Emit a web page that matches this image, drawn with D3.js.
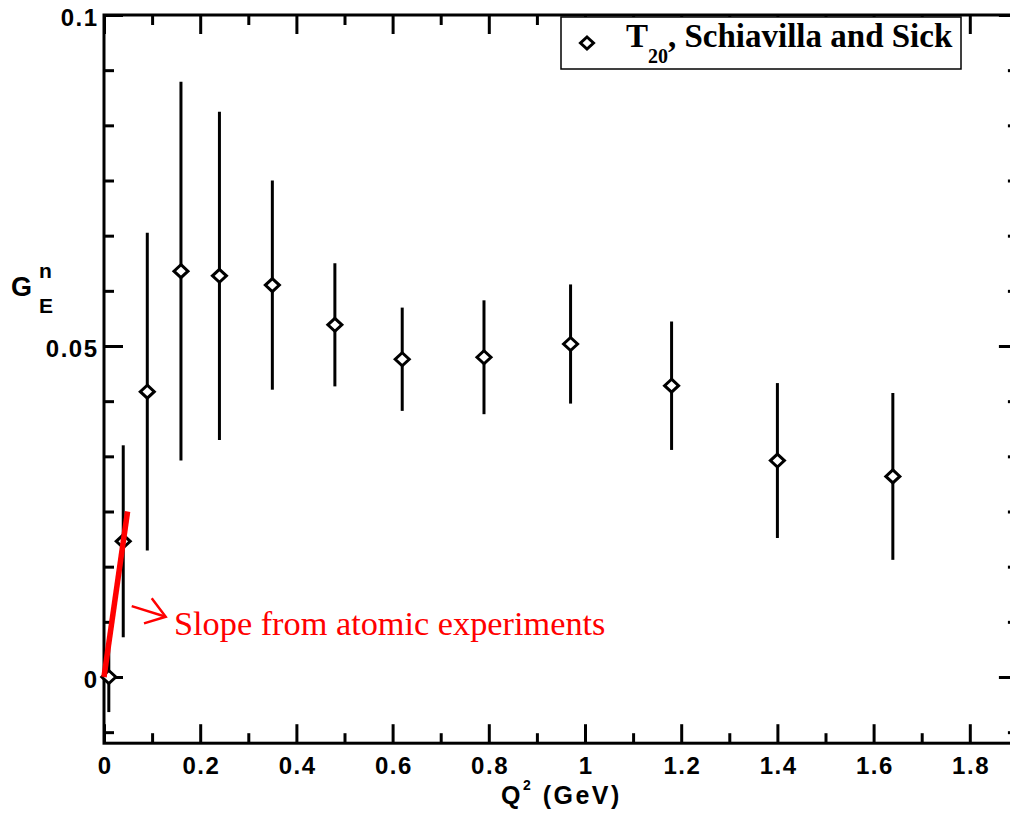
<!DOCTYPE html>
<html>
<head>
<meta charset="utf-8">
<script src="https://cdn.jsdelivr.net/npm/d3@7"></script>
<style>
  html, body { margin: 0; padding: 0; background: #fff; }
  svg { display: block; }
</style>
</head>
<body>
<script>
// ---- data ----
const q2Values = [0.01, 0.04, 0.09, 0.16, 0.24, 0.35, 0.48, 0.62, 0.79, 0.97, 1.18, 1.40, 1.64];
const gValues  = [0.0, 0.0205, 0.0431, 0.0613, 0.0606, 0.0592, 0.0532, 0.0480, 0.0483, 0.0503, 0.0440, 0.0327, 0.0303];
const gErrors  = [0.0053, 0.0145, 0.0240, 0.0286, 0.0248, 0.0158, 0.0093, 0.0078, 0.0086, 0.0090, 0.0097, 0.0117, 0.0126];

const slopeX = [0, 0.049];
const slopeY = [0, 0.025];
const arrowX = [0.0576, 0.1283];
const arrowY = [0.0107, 0.0091];
const arrowHeadX = [0.0992, 0.1283, 0.0832];
const arrowHeadY = [0.0119, 0.0091, 0.0081];
const noteX = 0.1455, noteY = 0.00634;
const noteText = "Slope from atomic experiments";

const xMajorTicks = [0, 0.2, 0.4, 0.6, 0.8, 1.0, 1.2, 1.4, 1.6, 1.8];
const xTickLabels = ["0", "0.2", "0.4", "0.6", "0.8", "1", "1.2", "1.4", "1.6", "1.8"];
const xMinorTicks = [0.1, 0.3, 0.5, 0.7, 0.9, 1.1, 1.3, 1.5, 1.7, 1.9];
const yMajorTicks = [0, 0.05, 0.1];
const yTickLabels = ["0", "0.05", "0.1"];
const yMinorStep = 0.05 / 6;

const legendLabel = { main: "T", sub: "20", rest: ", Schiavilla and Sick" };

// ---- layout ----
const W = 1010, H = 825;
const L = 104, R = 1017.9, T = 15, B = 743.2;

const svg = d3.select("body").append("svg").attr("width", W).attr("height", H);

const x = d3.scaleLinear().domain([0, 1.9]).range([L, R]);
const y = d3.scaleLinear().domain([-0.01, 0.1]).range([B, T]);

const yMinorTicks = d3.range(-1, 13).map(i => i * yMinorStep)
  .filter(v => v >= -0.01 && v <= 0.1 && Math.abs(v / 0.05 - Math.round(v / 0.05)) > 1e-6);

const tickFont = "'Liberation Sans', Arial, Helvetica, sans-serif";
const LS = 1.5;

function styleAxis(g) {
  g.select(".domain").remove();
  g.selectAll(".tick line").attr("stroke", "#000").attr("stroke-width", 3);
  g.selectAll("text").attr("font-family", tickFont).attr("font-weight", "bold")
    .attr("font-size", 24).attr("fill", "#000").style("letter-spacing", LS + "px");
}

// bottom axis (major with labels)
svg.append("g").attr("transform", `translate(0,${B})`)
  .call(d3.axisBottom(x).tickValues(xMajorTicks).tickFormat((d, i) => xTickLabels[i])
    .tickSizeInner(-19).tickSizeOuter(0).tickPadding(14))
  .call(styleAxis)
  .selectAll("text").attr("dx", LS / 2);
svg.append("g").attr("transform", `translate(0,${B})`)
  .call(d3.axisBottom(x).tickValues(xMinorTicks).tickFormat("").tickSizeInner(-10).tickSizeOuter(0))
  .call(styleAxis);
// top axis
svg.append("g").attr("transform", `translate(0,${T})`)
  .call(d3.axisTop(x).tickValues(xMajorTicks).tickFormat("").tickSizeInner(-19).tickSizeOuter(0))
  .call(styleAxis);
svg.append("g").attr("transform", `translate(0,${T})`)
  .call(d3.axisTop(x).tickValues(xMinorTicks).tickFormat("").tickSizeInner(-10).tickSizeOuter(0))
  .call(styleAxis);
// left axis
svg.append("g").attr("transform", `translate(${L},0)`)
  .call(d3.axisLeft(y).tickValues(yMajorTicks).tickFormat((d, i) => yTickLabels[i])
    .tickSizeInner(-19).tickSizeOuter(0).tickPadding(7 - LS))
  .call(styleAxis)
  .selectAll("text").attr("dy", "0.42em");
svg.append("g").attr("transform", `translate(${L},0)`)
  .call(d3.axisLeft(y).tickValues(yMinorTicks).tickFormat("").tickSizeInner(-10).tickSizeOuter(0))
  .call(styleAxis);
// right axis
svg.append("g").attr("transform", `translate(${R},0)`)
  .call(d3.axisRight(y).tickValues(yMajorTicks).tickFormat("").tickSizeInner(-19).tickSizeOuter(0))
  .call(styleAxis);
svg.append("g").attr("transform", `translate(${R},0)`)
  .call(d3.axisRight(y).tickValues(yMinorTicks).tickFormat("").tickSizeInner(-10).tickSizeOuter(0))
  .call(styleAxis);

// frame
svg.append("rect").attr("x", L).attr("y", T).attr("width", R - L).attr("height", B - T)
  .attr("fill", "none").attr("stroke", "#000").attr("stroke-width", 3);

// axis titles
const xt = svg.append("text").attr("x", 501).attr("y", 804)
  .attr("font-family", tickFont).attr("font-weight", "bold").attr("font-size", 25)
  .style("letter-spacing", "2.5px");
xt.append("tspan").text("Q");
xt.append("tspan").attr("font-size", 14).attr("dy", -14).text("2");
xt.append("tspan").attr("dy", 14).text(" (GeV)");

svg.append("text").attr("x", 11).attr("y", 295.5)
  .attr("font-family", tickFont).attr("font-weight", "bold").attr("font-size", 27).text("G");
svg.append("text").attr("x", 39).attr("y", 278)
  .attr("font-family", tickFont).attr("font-weight", "bold").attr("font-size", 21).text("n");
svg.append("text").attr("x", 39).attr("y", 313)
  .attr("font-family", tickFont).attr("font-weight", "bold").attr("font-size", 21).text("E");

// data
const pts = q2Values.map((q, i) => ({ q, g: gValues[i], e: gErrors[i] }));

svg.append("g").selectAll("line").data(pts).join("line")
  .attr("x1", d => x(d.q)).attr("x2", d => x(d.q))
  .attr("y1", d => y(d.g + d.e)).attr("y2", d => y(d.g - d.e))
  .attr("stroke", "#000").attr("stroke-width", 3);

function diamond(cx, cy, rx, ry) {
  return `M${cx},${cy - ry}L${cx + rx},${cy}L${cx},${cy + ry}L${cx - rx},${cy}Z`;
}
svg.append("g").selectAll("path").data(pts).join("path")
  .attr("d", d => diamond(x(d.q), y(d.g), 7, 6.5))
  .attr("fill", "#fff").attr("stroke", "#000").attr("stroke-width", 3);

// red slope line and annotation
const lineGen = d3.line().x(d => x(d[0])).y(d => y(d[1]));
svg.append("path").attr("d", lineGen(d3.zip(slopeX, slopeY)))
  .attr("stroke", "#ff0000").attr("stroke-width", 5.5).attr("fill", "none");
svg.append("path").attr("d", lineGen(d3.zip(arrowX, arrowY)))
  .attr("stroke", "#ff0000").attr("stroke-width", 2.5).attr("fill", "none");
svg.append("path").attr("d", lineGen(d3.zip(arrowHeadX, arrowHeadY)))
  .attr("stroke", "#ff0000").attr("stroke-width", 2.5).attr("fill", "none");
svg.append("text").attr("x", x(noteX)).attr("y", y(noteY))
  .attr("font-family", "'Liberation Serif', 'Times New Roman', serif")
  .attr("font-size", 34.3).attr("fill", "#ff0000").text(noteText);

// legend
svg.append("rect").attr("x", 561).attr("y", 17).attr("width", 400).attr("height", 52)
  .attr("fill", "#fff").attr("stroke", "#000").attr("stroke-width", 1.5);
svg.append("path").attr("d", diamond(587, 43, 6.5, 6))
  .attr("fill", "#fff").attr("stroke", "#000").attr("stroke-width", 3);
const lt = svg.append("text").attr("x", 626).attr("y", 47)
  .attr("font-family", "'Liberation Serif', 'Times New Roman', serif")
  .attr("font-weight", "bold").attr("font-size", 33);
lt.append("tspan").text(legendLabel.main);
lt.append("tspan").attr("font-size", 20).attr("dy", 16).text(legendLabel.sub);
lt.append("tspan").attr("dy", -16).text(legendLabel.rest);
</script>
</body>
</html>
